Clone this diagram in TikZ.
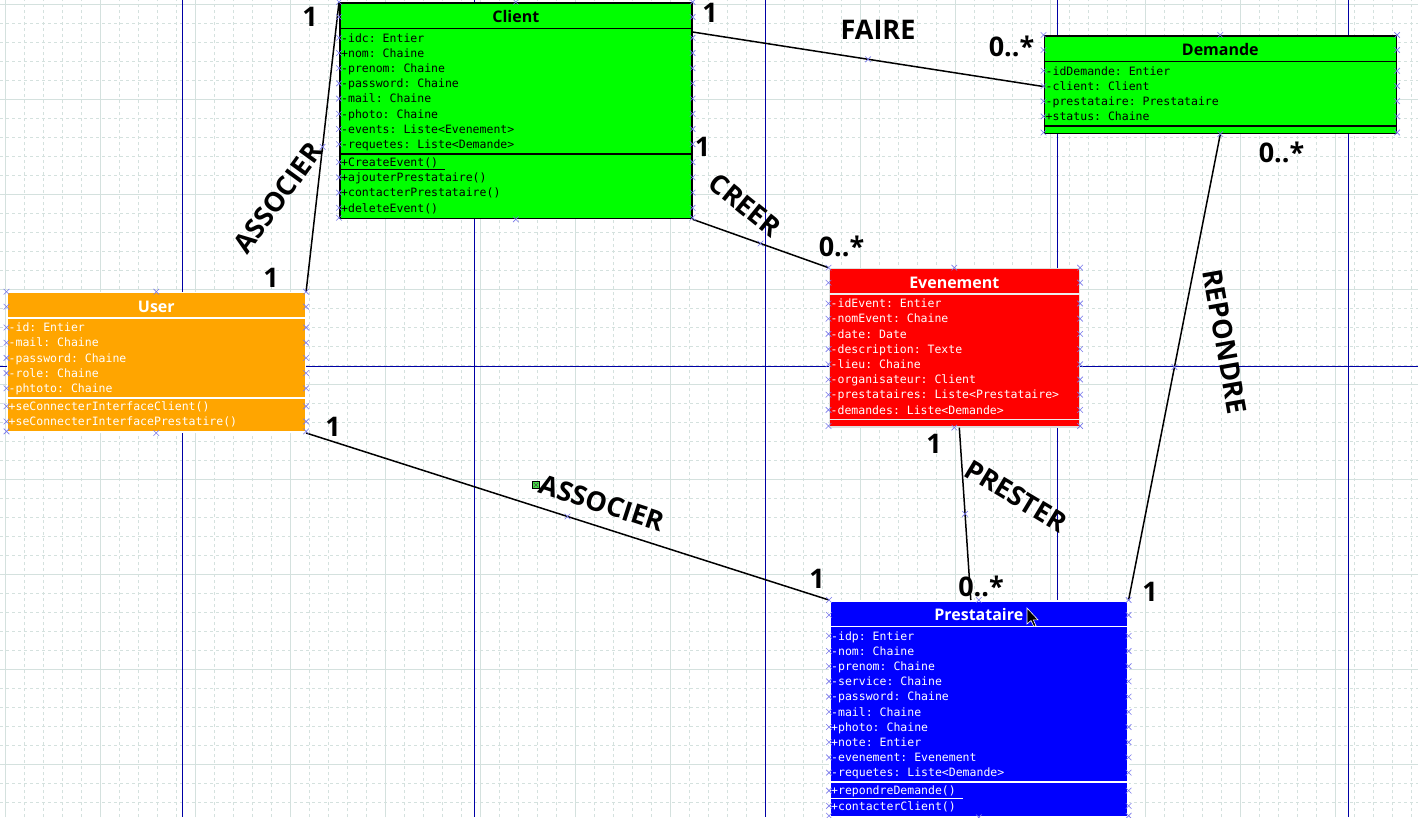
\documentclass[tikz,border=0pt]{standalone}
\usepackage{fontspec}
\setmainfont{Open Sans}
\setmonofont{DejaVu Sans Mono}
\usetikzlibrary{calc,shapes.misc}

\definecolor{vert}{RGB}{0,255,0}
\definecolor{orangeuml}{RGB}{255,165,0}
\definecolor{rouge}{RGB}{255,0,0}
\definecolor{bleu}{RGB}{0,0,255}
\definecolor{grille}{RGB}{212,225,222}
\definecolor{page}{RGB}{0,0,165}
\definecolor{repere}{RGB}{120,120,235}
\definecolor{vertpoignee}{RGB}{70,225,70}

% petites croix sur les bords d'une classe
\newcommand{\reperes}[2]{%
  \foreach \dy [count=\i] in {#2} {
    \node[croix] (#1-g\i) at ($(#1.north west)+(0,-\dy)$) {};
    \node[croix] (#1-d\i) at ($(#1.north east)+(0,-\dy)$) {};
  }
  \node[croix] (#1-h) at (#1.north) {};
  \node[croix] (#1-b) at (#1.south) {};
}

\begin{document}
\begin{tikzpicture}[x=1pt,y=1pt]
\tikzstyle{classe} = [draw, line width=1.6pt, inner sep=0pt, anchor=north west]
\tikzstyle{cloison} = [line width=1.6pt]
\tikzstyle{titre} = [font=\bfseries\fontsize{16}{19}\selectfont, inner sep=0pt, anchor=base]
\tikzstyle{champs} = [font=\ttfamily\fontsize{11.5}{15.2}\selectfont, align=left, inner sep=0pt, anchor=north west]
\tikzstyle{lien} = [line width=1.5pt]
\tikzstyle{etiq} = [font=\bfseries\fontsize{27}{32}\selectfont, inner sep=0pt]
\tikzstyle{croix} = [cross out, draw=repere, minimum size=5pt, inner sep=0pt, line width=0.6pt]

\useasboundingbox (0,0) rectangle (1418,-817);
\fill[white] (0,0) rectangle (1418,-817);
% grille de fond
\draw[grille, line width=0.8pt, dash pattern=on 3pt off 3pt, shift={(5,-4)}] (-5,4) grid[step=19pt] (1413,-813);
\draw[grille, line width=0.8pt, shift={(5,-4)}] (-5,4) grid[step=95pt] (1413,-813);
\foreach \x in {182.3,473.9,765.5,1057.1,1348.7}
  \draw[page, line width=0.8pt] (\x,0) -- (\x,-817);
\draw[page, line width=0.8pt] (0,-366.5) -- (1418,-366.5);

% classes
\node[classe, fill=vert, minimum width=352pt, minimum height=215.7pt] (client) at (339,-2) {};
\draw[cloison] ($(client.north west)+(0,-26.5)$) -- ($(client.north east)+(0,-26.5)$);
\draw[cloison] ($(client.north west)+(0,-151.7)$) -- ($(client.north east)+(0,-151.7)$);
\node[titre] (clientNom) at ($(client.north)+(0,-20.5)$) {Client};
\node[champs] (clientAttr) at ($(client.north west)+(2,-29.2)$) {\strut-idc: Entier\\+nom: Chaine\\-prenom: Chaine\\-password: Chaine\\-mail: Chaine\\-photo: Chaine\\-events: Liste<Evenement>\\-requetes: Liste<Demande>};
\node[champs] (clientOp) at ($(client.north west)+(2,-153.6)$) {\strut\underline{+CreateEvent()\ }\\+ajouterPrestataire()\\+contacterPrestataire()\\+deleteEvent()};

\node[classe, fill=vert, minimum width=352pt, minimum height=97.5pt] (demande) at (1043.5,-35) {};
\draw[cloison] ($(demande.north west)+(0,-26.5)$) -- ($(demande.north east)+(0,-26.5)$);
\draw[cloison] ($(demande.north west)+(0,-90.9)$) -- ($(demande.north east)+(0,-90.9)$);
\node[titre] (demandeNom) at ($(demande.north)+(0,-20.5)$) {Demande};
\node[champs] (demandeAttr) at ($(demande.north west)+(2,-29.2)$) {\strut-idDemande: Entier\\-client: Client\\-prestataire: Prestataire\\+status: Chaine};

\node[classe, draw=white, fill=orangeuml, minimum width=298pt, minimum height=139.7pt] (user) at (6.5,-291.7) {};
\draw[cloison, white] ($(user.north west)+(0,-26.5)$) -- ($(user.north east)+(0,-26.5)$);
\draw[cloison, white] ($(user.north west)+(0,-106.1)$) -- ($(user.north east)+(0,-106.1)$);
\node[titre, white] (userNom) at ($(user.north)+(0,-20.5)$) {User};
\node[champs, white] (userAttr) at ($(user.north west)+(2,-29.2)$) {\strut-id: Entier\\-mail: Chaine\\-password: Chaine\\-role: Chaine\\-phtoto: Chaine};
\node[champs, white] (userOp) at ($(user.north west)+(2,-108)$) {\strut+seConnecterInterfaceClient()\\+seConnecterInterfacePrestatire()};

\node[classe, draw=gray!25, fill=rouge, minimum width=250pt, minimum height=158.3pt] (evenement) at (828.5,-267.7) {};
\draw[cloison, gray!15] ($(evenement.north west)+(0,-26.5)$) -- ($(evenement.north east)+(0,-26.5)$);
\draw[cloison, gray!15] ($(evenement.north west)+(0,-151.7)$) -- ($(evenement.north east)+(0,-151.7)$);
\node[titre, white] (evenementNom) at ($(evenement.north)+(0,-20.5)$) {Evenement};
\node[champs, white] (evenementAttr) at ($(evenement.north west)+(2,-29.2)$) {\strut-idEvent: Entier\\-nomEvent: Chaine\\-date: Date\\-description: Texte\\-lieu: Chaine\\-organisateur: Client\\-prestataires: Liste<Prestataire>\\-demandes: Liste<Demande>};

\node[classe, draw=white, fill=bleu, minimum width=298pt, minimum height=215.7pt] (prestataire) at (829,-600) {};
\draw[cloison, white] ($(prestataire.north west)+(0,-26.5)$) -- ($(prestataire.north east)+(0,-26.5)$);
\draw[cloison, white] ($(prestataire.north west)+(0,-182.1)$) -- ($(prestataire.north east)+(0,-182.1)$);
\node[titre, white] (prestataireNom) at ($(prestataire.north)+(0,-20.5)$) {Prestataire};
\node[champs, white] (prestataireAttr) at ($(prestataire.north west)+(2,-29.2)$) {\strut-idp: Entier\\-nom: Chaine\\-prenom: Chaine\\-service: Chaine\\-password: Chaine\\-mail: Chaine\\+photo: Chaine\\+note: Entier\\-evenement: Evenement\\-requetes: Liste<Demande>};
\node[champs, white] (prestataireOp) at ($(prestataire.north west)+(2,-184)$) {\strut\underline{+repondreDemande()\ }\\+contacterClient()};

% associations
\draw[lien] (user.north east) -- (client.north west) node[croix, pos=.5] (m1) {};
\draw[lien] ($(client.north east)+(0,-30)$) -- ($(demande.west)+(0,-2)$) node[croix, pos=.5] (m2) {};
\draw[lien] (client.south east) -- (evenement.north west) node[croix, pos=.5] (m3) {};
\draw[lien] (user.south east) -- (prestataire.north west) node[croix, pos=.5] (m4) {};
\draw[lien] ($(evenement.south)+(5,0)$) -- ($(prestataire.north)+(-8,0)$) node[croix, pos=.5] (m5) {};
\draw[lien] (demande.south) -- (prestataire.north east) node[croix, pos=.5] (m6) {};

\reperes{client}{0,15,35.8,51,66.2,81.4,96.6,111.8,127,142.2,160.2,175.4,190.6,205.8,215.7}
\reperes{demande}{0,15,35.8,51,66.2,81.4,97.5}
\reperes{user}{0,15,35.8,51,66.2,81.4,96.6,114.6,129.8,139.7}
\reperes{evenement}{0,15,35.8,51,66.2,81.4,96.6,111.8,127,142.2,158.3}
\reperes{prestataire}{0,15,35.8,51,66.2,81.4,96.6,111.8,127,142.2,157.4,172.6,190.6,205.8,215.7}

% roles et noms
\node[etiq] (r1) at (310,-16.5) {1};
\node[etiq] (r2) at (271,-277.5) {1};
\node[etiq, rotate=54] (a1) at (278,-198) {ASSOCIER};
\node[etiq] (r3) at (710,-12.5) {1};
\node[etiq] (a2) at (878,-30) {FAIRE};
\node[etiq] (r4) at (1011.5,-46.7) {0..*};
\node[etiq] (r5) at (702.5,-146.5) {1};
\node[etiq, rotate=-39] (a3) at (745,-205) {CREER};
\node[etiq] (r6) at (841.5,-246) {0..*};
\node[etiq] (r7) at (333,-427) {1};
\node[etiq, rotate=-18] (a4) at (602,-503) {ASSOCIER};
\node[etiq] (r8) at (817,-579) {1};
\node[etiq] (r9) at (934,-444) {1};
\node[etiq, rotate=-31] (a5) at (1016,-496) {PRESTER};
\node[etiq] (r10) at (981,-586) {0..*};
\node[etiq] (r11) at (1281.5,-152) {0..*};
\node[etiq, rotate=-80] (a6) at (1225,-341.5) {REPONDRE};
\node[etiq] (r12) at (1150,-592) {1};

% poignee verte et curseur
\node[draw=black, fill=vertpoignee, minimum size=7pt, inner sep=0pt, line width=0.5pt] (poignee) at (536,-485) {};
\node[cross out, draw=black!70, minimum size=4pt, inner sep=0pt, line width=0.5pt] (poigneeX) at (poignee) {};
\filldraw[fill=black, draw=white, line width=0.6pt] (1027,-608) -- ++(0,-16) -- ++(4,3.5) -- ++(2.8,-6) -- ++(2.2,0.9) -- ++(-2.7,5.8) -- ++(4.7,0) -- cycle;
\end{tikzpicture}
\end{document}
